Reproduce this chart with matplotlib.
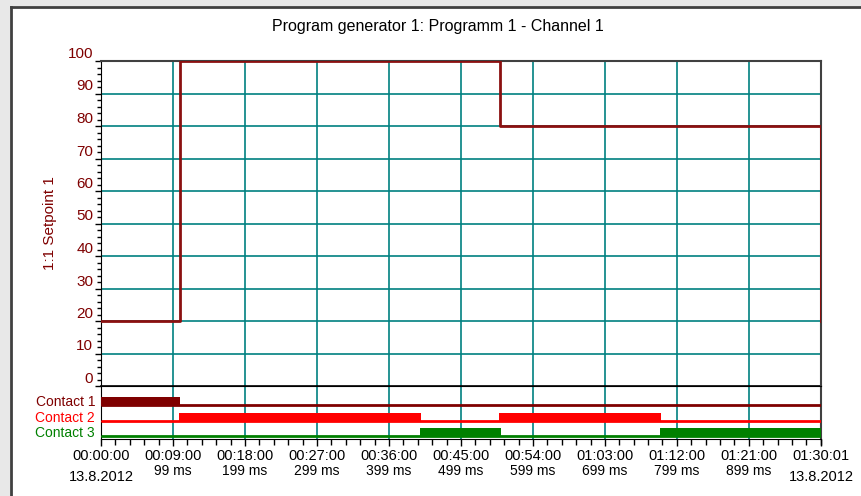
import matplotlib
matplotlib.use("Agg")
import matplotlib.pyplot as plt
from matplotlib.patches import Rectangle
from matplotlib.lines import Line2D
from matplotlib.ticker import MultipleLocator
from matplotlib.transforms import ScaledTranslation

plt.rcParams["font.family"] = ["Liberation Sans", "DejaVu Sans"]

# Setpoint profile (seconds from start, value held until next time)
setpoint_times = [0, 590, 2990, 5401]
setpoint_values = [20, 100, 80, 20]

# Contact switching times (state holds until the next time)
contact_names = ["Contact 1", "Contact 2", "Contact 3"]
contact_colors = ["#7f0000", "#ff0000", "#008000"]
contact_times = [
    [0, 590, 5401],
    [0, 585, 2400, 2985, 4200, 5401],
    [0, 2395, 3000, 4190, 5401],
]
contact_states = [
    [1, 0, 0],
    [0, 1, 0, 1, 0, 0],
    [0, 1, 0, 1, 1],
]

tick_times = [0, 540, 1080, 1620, 2160, 2700, 3240, 3780, 4320, 4860, 5401]
tick_labels = ["00:00:00", "00:09:00", "00:18:00", "00:27:00", "00:36:00", "00:45:00",
               "00:54:00", "01:03:00", "01:12:00", "01:21:00", "01:30:01"]
tick_sublabels = ["13.8.2012", "99 ms", "199 ms", "299 ms", "399 ms", "499 ms",
                  "599 ms", "699 ms", "799 ms", "899 ms", "13.8.2012"]

W, H = 861, 496
DARKRED = "#7f0000"
TEAL = "#008080"

fig = plt.figure(figsize=(W / 100, H / 100), dpi=100)
fig.patch.set_facecolor("white")


def fx(px):
    return px / W


def fy(py):
    return 1 - py / H


def px_shift(dx, dy):
    return ScaledTranslation(dx / 100, dy / 100, fig.dpi_scale_trans)


# sunken panel border
fig.patches.append(Rectangle((0, 0), 1, 1, transform=fig.transFigure,
                             facecolor="#e8e8e8", edgecolor="none", zorder=-3))
fig.patches.append(Rectangle((fx(10), 0), 1, fy(6), transform=fig.transFigure,
                             facecolor="white", edgecolor="none", zorder=-2))
fig.lines.append(Line2D([fx(11), 1], [fy(7), fy(7)], transform=fig.transFigure,
                        color="#404040", lw=2))
fig.lines.append(Line2D([fx(11), fx(11)], [0, fy(7)], transform=fig.transFigure,
                        color="#404040", lw=2))

left, right = 101, 821
top, mid, bottom = 61, 386, 439
ax = fig.add_axes([fx(left), fy(mid), fx(right - left), (mid - top) / H])
axc = fig.add_axes([fx(left), fy(bottom), fx(right - left), (bottom - mid) / H], sharex=ax)

xmax = tick_times[-1]

# main setpoint panel
ax.step(setpoint_times, setpoint_values, where="post", color="#8b1010", lw=2, zorder=3)
ax.plot([xmax, xmax], [setpoint_values[-2], setpoint_values[-1]], color="#8b1010", lw=2, zorder=3)
ax.set_xlim(0, xmax)
ax.set_ylim(0, 100)
ax.yaxis.set_major_locator(MultipleLocator(10))
ax.yaxis.set_minor_locator(MultipleLocator(2))
ax.set_xticks(tick_times)
ax.xaxis.set_minor_locator(MultipleLocator(108))
for t in tick_times[1:-1]:
    ax.axvline(t, color=TEAL, lw=1.2, zorder=1)
    axc.axvline(t, color=TEAL, lw=1.2, zorder=1)
for v in range(10, 100, 10):
    ax.axhline(v, color=TEAL, lw=1.2, zorder=1)
ax.tick_params(axis="x", which="both", length=0, labelbottom=False)
ax.tick_params(axis="y", which="major", length=4.5, width=1, color="black",
               labelcolor=DARKRED, labelsize=11, pad=1)
ax.tick_params(axis="y", which="minor", length=3, width=1, color="black")
for lab in ax.get_yticklabels():
    lab.set_verticalalignment("bottom")
ax.set_ylabel("1:1 Setpoint 1", color=DARKRED, fontsize=11, labelpad=8)
for side in ["top", "right"]:
    ax.spines[side].set_color("#404040")
    ax.spines[side].set_linewidth(1.5)
ax.spines["left"].set_color("black")
ax.spines["bottom"].set_color("black")
ax.spines["bottom"].set_linewidth(1.2)

# contact panel (rows from top to bottom)
axc.set_ylim(0, bottom - mid)
row_base = [34, 18, 3]
bar_h = 8.5
for name, color, times, states, base in zip(contact_names, contact_colors,
                                            contact_times, contact_states, row_base):
    axc.plot([0, xmax], [base, base], color=color, lw=2, zorder=3, solid_capstyle="butt")
    upper = [base + bar_h * s for s in states]
    axc.fill_between(times, base - 0.5, upper, step="post", color=color, lw=0, zorder=3)
    axc.text(0, base + 3, name, color=color, fontsize=10, ha="right", va="center",
             transform=axc.transData + px_shift(-6, 0), clip_on=False)
axc.set_yticks([])
axc.set_xticks(tick_times)
axc.set_xticklabels(tick_labels)
axc.xaxis.set_minor_locator(MultipleLocator(108))
axc.tick_params(axis="x", which="major", length=5, width=1, color="black", labelsize=10.5, pad=2.5)
axc.tick_params(axis="x", which="minor", length=4, width=1, color="black")
for i, (t, sub) in enumerate(zip(tick_times, tick_sublabels)):
    drop = 38 if i in (0, len(tick_times) - 1) else 32
    axc.text(t, 0, sub, fontsize=10.5 if "ms" not in sub else 10, ha="center", va="center",
             transform=axc.get_xaxis_transform() + px_shift(0, -drop), clip_on=False)
axc.spines["top"].set_color("black")
axc.spines["right"].set_color("#404040")
axc.spines["right"].set_linewidth(1.5)

fig.text(fx(438), fy(27), "Program generator 1: Programm 1 - Channel 1",
         ha="center", va="center", fontsize=11.5)

fig.savefig("out.png", dpi=100)
